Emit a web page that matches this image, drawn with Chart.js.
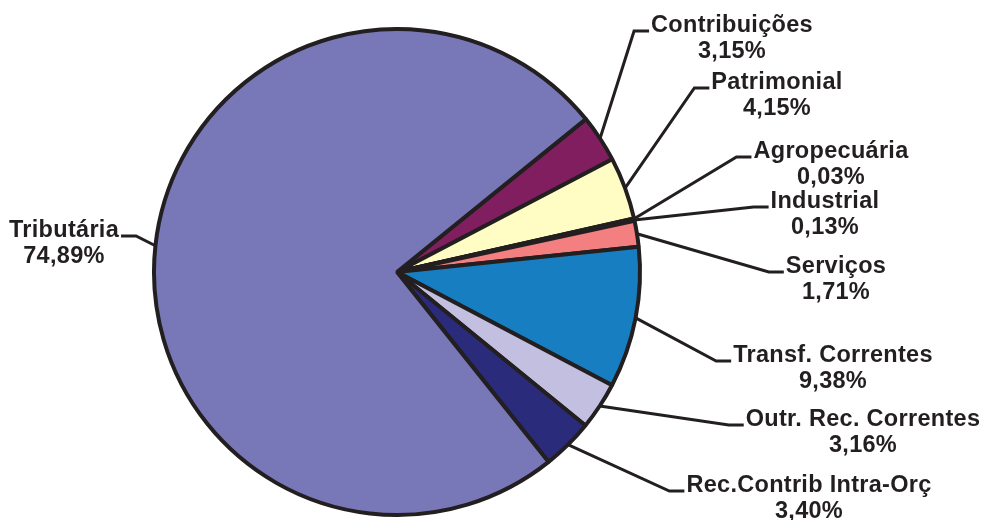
<!DOCTYPE html>
<html>
<head>
<meta charset="utf-8">
<script src="https://cdn.jsdelivr.net/npm/chart.js@4/dist/chart.umd.min.js"></script>
<style>
  body { margin: 0; background: #ffffff; }
</style>
</head>
<body>
<canvas id="myChart" width="983" height="520"></canvas>
<script>
//  data
const category_names = ['Contribuições', 'Patrimonial', 'Agropecuária', 'Industrial', 'Serviços',
  'Transf. Correntes', 'Outr. Rec. Correntes', 'Rec.Contrib Intra-Orç', 'Tributária'];
const percent_values = [3.15, 4.15, 0.03, 0.13, 1.71, 9.38, 3.16, 3.40, 74.89];
const slice_colors = ['#801e60', '#fffcc4', '#ccffff', '#660066', '#f37f80',
  '#177fc1', '#c2bfe0', '#2b2b7b', '#7878b8'];

// where each label sits: name center x, name baseline y
const label_spots = [[732, 32], [777, 89], [831, 158], [825, 208], [836, 273],
  [833, 362], [863, 426], [809, 492], [64, 237]];

const ink = '#231f20';
const percent_labels = percent_values.map(v => v.toFixed(2).replace('.', ',') + '%');
//  data

//  leader lines + labels
const leader_labels = {
  id: 'leader_labels',
  afterDatasetsDraw(chart) {
    const ctx = chart.ctx;
    const arcs = chart.getDatasetMeta(0).data;
    ctx.save();
    ctx.font = 'bold 23.5px "Liberation Sans", Arial, sans-serif';
    ctx.letterSpacing = '0.3px';
    ctx.textAlign = 'center';
    ctx.textBaseline = 'alphabetic';
    ctx.fillStyle = ink;
    ctx.strokeStyle = ink;
    ctx.lineWidth = 3;
    ctx.lineJoin = 'miter';
    arcs.forEach((arc, i) => {
      const p = arc.getProps(['x', 'y', 'startAngle', 'endAngle', 'outerRadius'], true);
      const mid = (p.startAngle + p.endAngle) / 2;
      const sx = p.x + Math.cos(mid) * p.outerRadius;
      const sy = p.y + Math.sin(mid) * p.outerRadius;
      const [cx, by] = label_spots[i];
      const half = ctx.measureText(category_names[i]).width / 2;
      let ex, hx;
      if (cx > p.x) {
        ex = cx - half - 2;
        hx = ex - 15;
      } else {
        ex = cx + half + 2;
        hx = ex + 15;
      }
      ctx.beginPath();
      ctx.moveTo(sx, sy);
      ctx.lineTo(hx, by - 1);
      ctx.lineTo(ex, by - 1);
      ctx.stroke();
      ctx.fillText(category_names[i], cx, by);
      ctx.fillText(percent_labels[i], cx, by + 26);
    });
    ctx.restore();
  }
};

const myChart = new Chart(document.getElementById('myChart'), {
  type: 'pie',
  data: {
    labels: category_names,
    datasets: [{
      data: percent_values,
      backgroundColor: slice_colors,
      borderColor: ink,
      borderWidth: 4
    }]
  },
  options: {
    responsive: false,
    animation: false,
    rotation: 51,
    layout: { padding: { left: 152, right: 341, top: 27, bottom: 3 } },
    plugins: {
      legend: { display: false },
      tooltip: { enabled: false }
    }
  },
  plugins: [leader_labels]
});
</script>
</body>
</html>
